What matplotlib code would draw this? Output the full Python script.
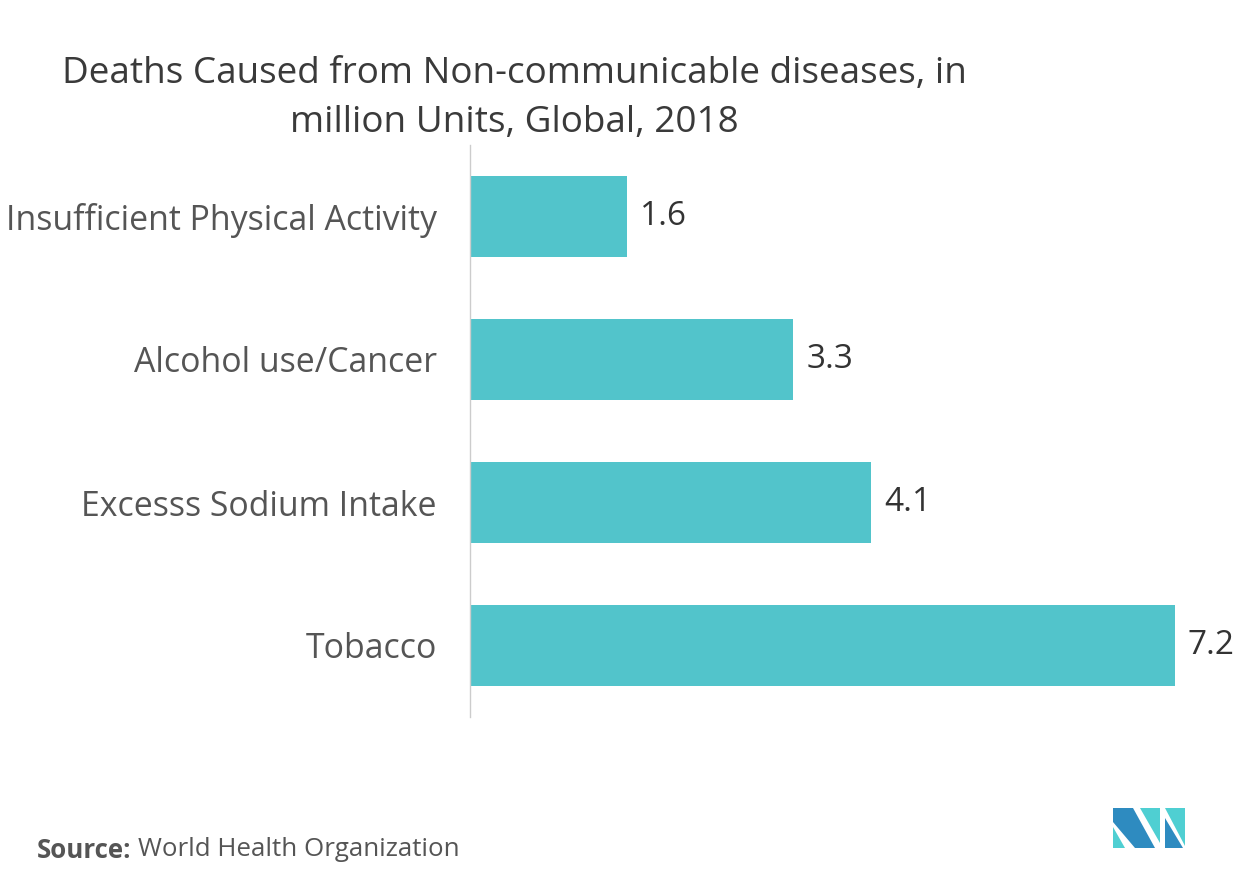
import matplotlib
matplotlib.use("Agg")
import matplotlib.pyplot as plt
from matplotlib.patches import Polygon

plt.rcParams['font.family'] = ['Open Sans', 'DejaVu Sans']

categories = ["Insufficient Physical Activity", "Alcohol use/Cancer", "Excesss Sodium Intake", "Tobacco"]
values = [1.6, 3.3, 4.1, 7.2]
value_labels = ["1.6", "3.3", "4.1", "7.2"]

W, H = 1253, 885
fig = plt.figure(figsize=(W / 100, H / 100), dpi=100)

ax_left, ax_right, ax_top, ax_bottom = 470, 1220, 145, 717
ax = fig.add_axes([ax_left / W, 1 - ax_bottom / H, (ax_right - ax_left) / W, (ax_bottom - ax_top) / H])

bar_color = "#52C4CB"
pos = list(range(len(categories)))
ax.barh(pos, values, height=0.57, color=bar_color)
ax.set_ylim(3.5, -0.5)
px_per_unit = 97.9
ax.set_xlim(0, (ax_right - ax_left) / px_per_unit)

for p, v, lab in zip(pos, values, value_labels):
    ax.text(v + 13 / px_per_unit, p, lab, va="center", ha="left", fontsize=24, color="#333333")

ax.set_yticks(pos)
ax.set_yticklabels(categories, fontsize=24.4, color="#555555")
ax.tick_params(axis="y", length=0, pad=24)
ax.set_xticks([])
for s in ["top", "right", "bottom"]:
    ax.spines[s].set_visible(False)
ax.spines["left"].set_color("#cccccc")
ax.spines["left"].set_linewidth(1)

# Title
fig.text(514 / W, 1 - 74 / H, "Deaths Caused from Non-communicable diseases, in",
         ha="center", va="center", fontsize=26.6, color="#3a3a3a")
fig.text(514 / W, 1 - 123 / H, "million Units, Global, 2018",
         ha="center", va="center", fontsize=26.6, color="#3a3a3a")

# Source
t = fig.text(37 / W, 1 - 850 / H, "Source:", ha="left", va="center",
             fontsize=18.6, fontweight="bold", color="#555555")
fig.canvas.draw()
bb = t.get_window_extent()
fig.text((bb.x1 + 6) / W, 1 - 850 / H, "World Health Organization", ha="left", va="center",
         fontsize=18.6, color="#555555")

# Logo
def P(pts, c):
    fig.patches.append(Polygon([(x / W, 1 - y / H) for x, y in pts], closed=True,
                               transform=fig.transFigure, facecolor=c, edgecolor="none"))

dark = "#2E8BC0"
light = "#4FCFD2"
P([(1113, 808), (1133, 808), (1155, 848), (1135, 848), (1113, 822)], dark)
P([(1113, 827), (1113, 848), (1125, 848)], light)
P([(1140, 808), (1160, 808), (1160, 843)], light)
P([(1165, 818), (1165, 848), (1183, 848)], dark)
P([(1165, 808), (1185, 808), (1185, 846)], light)

fig.savefig("out.png", dpi=100)
